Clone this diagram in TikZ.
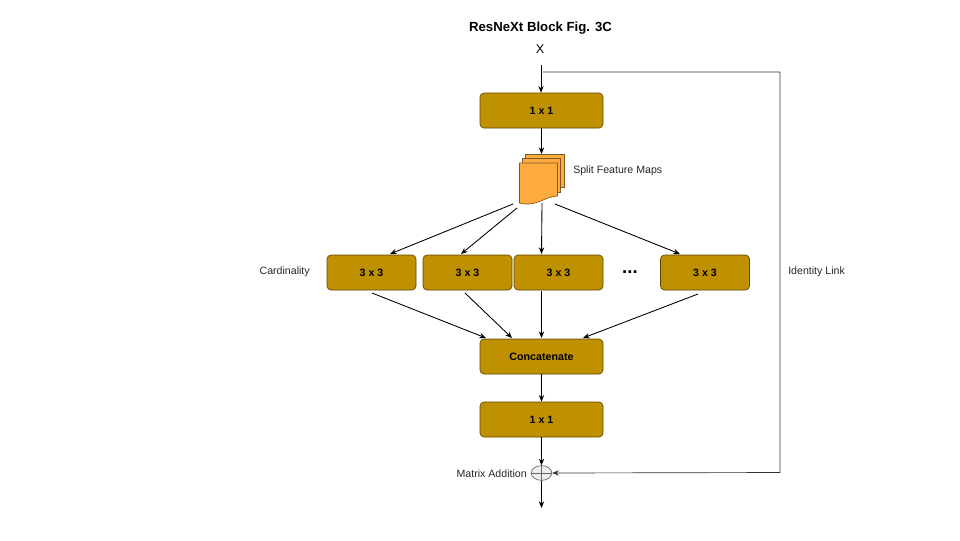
\documentclass[tikz,border=0pt]{standalone}
\usepackage{fontspec}
\setmainfont{Liberation Sans}
\usetikzlibrary{arrows.meta,shapes.geometric}
\definecolor{boxfill}{HTML}{BF9000}
\definecolor{boxline}{HTML}{5F4800}
\definecolor{sheetfill}{HTML}{FFAB40}
\definecolor{sheetline}{HTML}{7F5A20}
\tikzset{
	layerbox/.style={draw=boxline, fill=boxfill, rounded corners=3pt, line width=.5pt, minimum height=26.25pt, inner sep=0pt, text height=6.5pt, text depth=0pt, font=\fontsize{8}{9}\selectfont\bfseries},
	widebox/.style={layerbox, minimum width=92.25pt},
	cardbox/.style={layerbox, minimum width=66.75pt},
	label/.style={inner sep=0pt, font=\fontsize{7.95}{9}\selectfont, text=black!85},
	conn/.style={draw=black, line width=.65pt, -{Stealth[length=5pt,width=4pt]}},
	sheet/.style={draw=sheetline, fill=sheetfill, line width=.5pt},
}
\begin{document}
\begin{tikzpicture}[x=.75pt, y=-.75pt]
	\useasboundingbox (0,0) rectangle (960,540);
	\node[inner sep=0pt, font=\fontsize{9.9}{12}\selectfont\bfseries] (title) at (540.5,28){ResNeXt Block Fig. 3C};
	\node[inner sep=0pt, font=\fontsize{9.5}{11}\selectfont] (input) at (540,49){X};
	\node[widebox] (conva) at (541.5,110.5){1 x 1};
	\node[cardbox] (cardA) at (371.5,272.5){3 x 3};
	\node[cardbox] (cardB) at (467.5,272.5){3 x 3};
	\node[cardbox] (cardC) at (558.5,272.5){3 x 3};
	\node[cardbox] (cardD) at (705,272.5){3 x 3};
	\node[widebox] (concat) at (541.5,356.5){Concatenate};
	\node[widebox] (convb) at (541.5,419.5){1 x 1};
	\node[draw=black!60, fill=black!7, ellipse, minimum width=15.5pt, minimum height=11pt, inner sep=0pt, line width=.5pt] (sum) at (541.5,473){};
	\draw[black!60, line width=.5pt] (sum.north)--(sum.south) (sum.west)--(sum.east);

	% stacked sheets
	\path[sheet] (525,154)--(564,154)--(564,187)--(525,187)--cycle;
	\path[sheet] (522.5,158.5)--(560.5,158.5)--(560.5,192)--(522.5,192)--cycle;
	\path[sheet] (519.5,163)--(557.5,163)--(557.5,196) .. controls (545,197) and (537,205) .. (526,204) .. controls (523.5,204) and (521,203.5) .. (519.5,203)--cycle;

	\node[label, anchor=west] (splitlabel) at (573,170.5){Split Feature Maps};
	\node[label, anchor=east] (cardlabel) at (310,271.5){Cardinality};
	\node[label, anchor=west] (idlabel) at (788,271.5){Identity Link};
	\node[label, anchor=east] (sumlabel) at (527,473.5){Matrix Addition};
	\node[inner sep=0pt, font=\fontsize{14}{14}\selectfont\bfseries] (dots) at (630,272){...};

	\coordinate (inA) at (541,65);
	\coordinate (mapIn) at (541.5,154);
	\coordinate (mapA) at (513,204);
	\coordinate (mapB) at (517,208);
	\coordinate (mapC) at (542,203);
	\coordinate (mapD) at (555,204);
	\coordinate (hitA) at (390,254);
	\coordinate (hitB) at (461,254);
	\coordinate (hitC) at (541.5,254);
	\coordinate (hitD) at (680,254);
	\coordinate (outA) at (372,293);
	\coordinate (outB) at (465,293);
	\coordinate (outC) at (541.5,291);
	\coordinate (outD) at (698,294);
	\coordinate (mergeA) at (486,338);
	\coordinate (mergeB) at (512,338);
	\coordinate (mergeC) at (541.5,338);
	\coordinate (mergeD) at (583,338);
	\coordinate (linkA) at (543,72);
	\coordinate (linkB) at (780,72);
	\coordinate (linkC) at (780,472.5);
	\coordinate (final) at (541.5,508);

	\draw[conn] (inA)--(conva.north -| inA);
	\draw[conn] (conva.south)--(mapIn);
	\draw[conn] (mapA)--(hitA);
	\draw[conn] (mapB)--(hitB);
	\draw[conn] (mapC)--(hitC);
	\draw[conn] (mapD)--(hitD);
	\draw[conn] (outA)--(mergeA);
	\draw[conn] (outB)--(mergeB);
	\draw[conn] (outC)--(mergeC);
	\draw[conn] (outD)--(mergeD);
	\draw[conn] (concat.south)--(convb.north);
	\draw[conn] (convb.south)--(sum.north);
	\draw[conn] (sum.south)--(final);
	\draw[draw=black!80, line width=.5pt, -{Stealth[length=5pt,width=4pt]}] (linkA)--(linkB)--(linkC)--(sum.east);
\end{tikzpicture}
\end{document}
